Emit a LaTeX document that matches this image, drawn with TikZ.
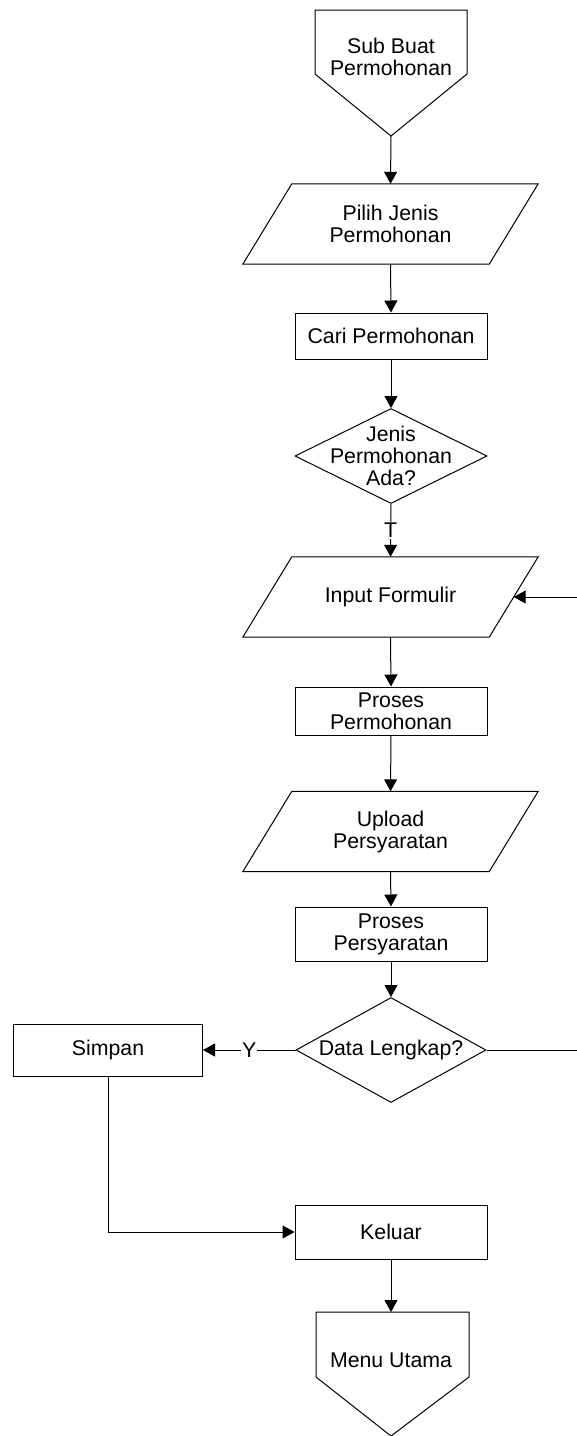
\documentclass[tikz,border=0pt]{standalone}
\usepackage{fontspec}
\setmainfont{Liberation Sans}
\usetikzlibrary{shapes.geometric,arrows.meta}

\newcommand{\flowfont}{\fontsize{21.3pt}{22pt}\selectfont}
\tikzset{
  flowline/.style={line width=1pt,-{Triangle[length=12pt,width=13pt]}},
  plainline/.style={line width=1pt},
  procbox/.style={draw,line width=1pt,rectangle,minimum width=192pt,inner sep=0pt,align=center,font=\flowfont},
  iobox/.style={rectangle,minimum width=246pt,minimum height=80pt,inner sep=0pt,align=center,font=\flowfont},
  ioside/.style={line width=1pt},
  decide/.style={draw,line width=1pt,diamond,inner sep=0pt,minimum width=192pt},
  offpage/.style={line width=1pt},
  lbl/.style={fill=white,inner sep=1pt,font=\flowfont}
}

\begin{document}
\begin{tikzpicture}[x=1pt,y=-1pt]
    \useasboundingbox (0,0) rectangle (577,1436);
    \draw[offpage] (315,10)--(467,10)--(467,74)--(391,136) coordinate (startTip)--(315,74)--cycle;
    \node[font=\flowfont,align=center] (start) at (391,57) {Sub Buat\\Permohonan};
    \node[iobox] (pilih) at (390.5,224) {Pilih Jenis\\Permohonan};
    \node[procbox,minimum height=46pt] (cari) at (391,336) {Cari Permohonan};
    \node[decide,minimum height=95pt,
      label={[font=\flowfont,align=center]center:Jenis\\Permohonan\\Ada?}] (jenis) at (391,456) {};
    \node[iobox] (input) at (390.5,597) {Input Formulir};
    \node[procbox,minimum height=48pt] (prosesMohon) at (391,711) {Proses\\Permohonan};
    \node[iobox] (upload) at (390.5,831.5) {Upload\\Persyaratan};
    \node[procbox,minimum height=54pt] (prosesSyarat) at (391,934) {Proses\\Persyaratan};
    \node[decide,minimum width=190pt,minimum height=105pt,
      label={[font=\flowfont]center:Data Lengkap?}] (lengkap) at (391,1050) {};
    \node[procbox,minimum width=189pt,minimum height=52pt] (simpan) at (108,1050) {Simpan};
    \node[procbox,minimum height=54pt] (keluar) at (391,1232) {Keluar};
    \draw[offpage] (316,1312)--(391,1312) coordinate (menuTop)--(469,1312)--(469,1377)--(391,1436)--(316,1377)--cycle;
    \node[font=\flowfont] (menu) at (391,1360) {Menu Utama};
    \coordinate (loopTop) at (577,597);
    \coordinate (loopBottom) at (577,1050);

    \draw[ioside] ([xshift=-24.5pt]pilih.south west)--([xshift=-24.5pt]pilih.south east)--([xshift=24.5pt]pilih.north east)--([xshift=24.5pt]pilih.north west)--cycle;
    \draw[ioside] ([xshift=-24.5pt]input.south west)--([xshift=-24.5pt]input.south east)--([xshift=24.5pt]input.north east)--([xshift=24.5pt]input.north west)--cycle;
    \draw[ioside] ([xshift=-24.5pt]upload.south west)--([xshift=-24.5pt]upload.south east)--([xshift=24.5pt]upload.north east)--([xshift=24.5pt]upload.north west)--cycle;

    \draw[flowline] (startTip)--(pilih.north);
    \draw[flowline] (pilih.south)--(cari.north);
    \draw[flowline] (cari.south)--(jenis.north);
    \draw[flowline] (jenis.south)--node[lbl]{T}(input.north);
    \draw[flowline] (input.south)--(prosesMohon.north);
    \draw[flowline] (prosesMohon.south)--(upload.north);
    \draw[flowline] (upload.south)--(prosesSyarat.north);
    \draw[flowline] (prosesSyarat.south)--(lengkap.north);
    \draw[flowline] (lengkap.west)--node[lbl]{Y}(simpan.east);
    \draw[plainline] (lengkap.east)--(loopBottom);
    \draw[flowline] (loopTop)--(input.east);
    \draw[flowline] (simpan.south)|-(keluar.west);
    \draw[flowline] (keluar.south)--(menuTop);
\end{tikzpicture}
\end{document}
